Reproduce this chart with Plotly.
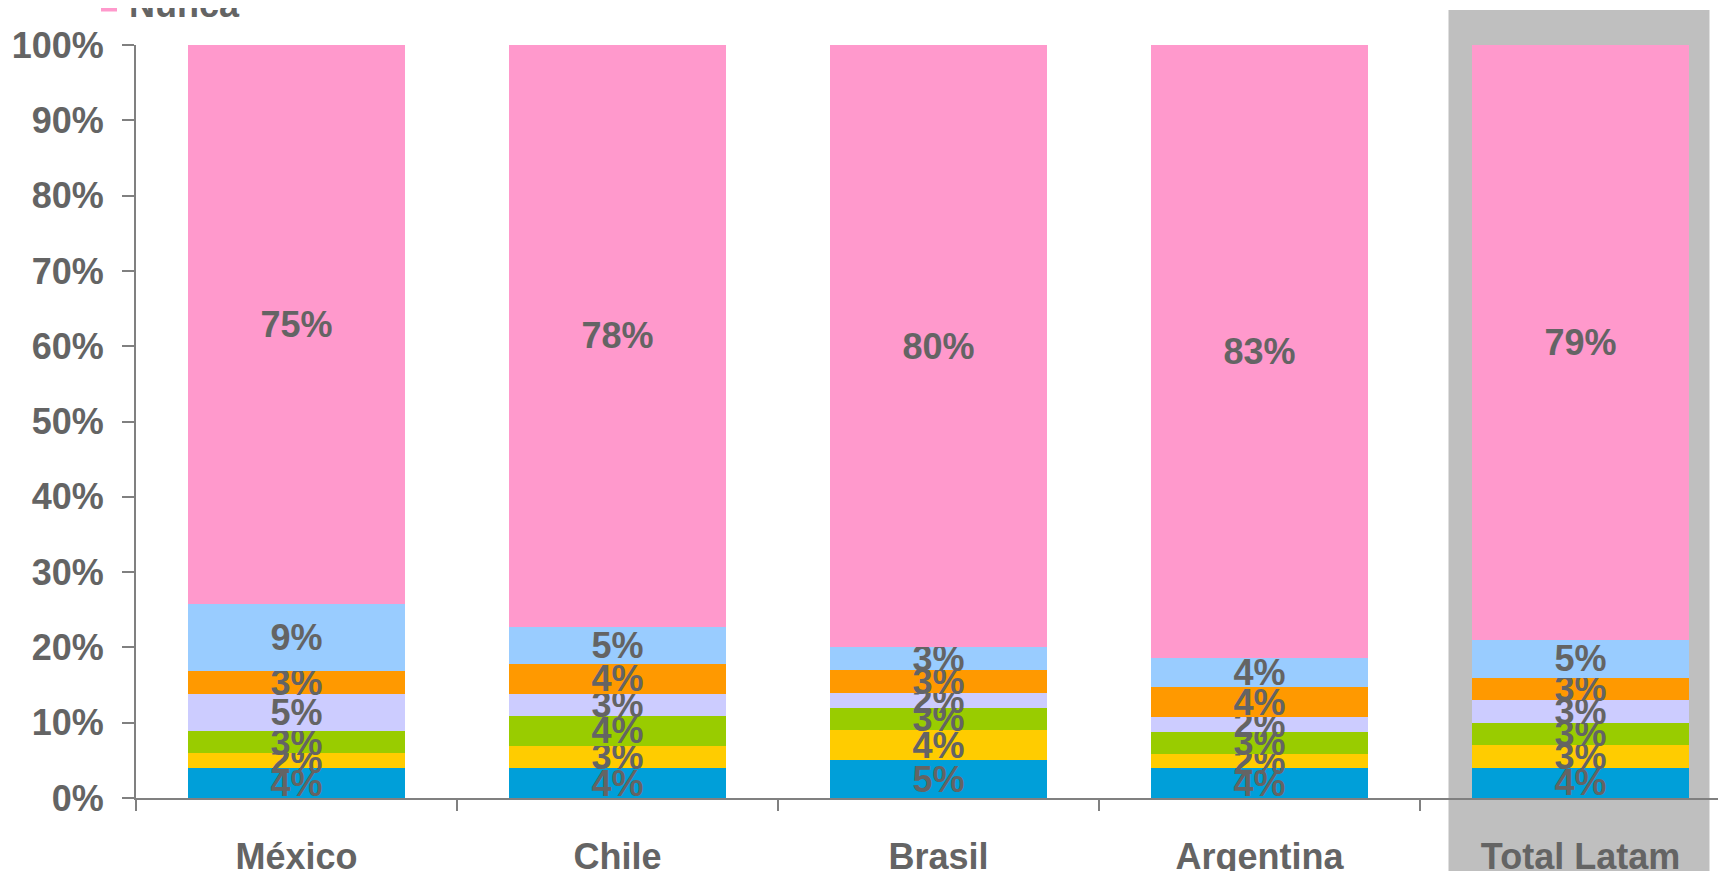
import plotly.graph_objects as go

categories = ["México", "Chile", "Brasil", "Argentina", "Total Latam"]

serie_1 = [4, 4, 5, 4, 4]
serie_2 = [2, 3, 4, 2, 3]
serie_3 = [3, 4, 3, 3, 3]
serie_4 = [5, 3, 2, 2, 3]
serie_5 = [3, 4, 3, 4, 3]
serie_6 = [9, 5, 3, 4, 5]
nunca = [75, 78, 80, 83, 79]

series = [
    ("Serie 1", serie_1, "#009FD9"),
    ("Serie 2", serie_2, "#FFCC00"),
    ("Serie 3", serie_3, "#99CC00"),
    ("Serie 4", serie_4, "#CCCCFF"),
    ("Serie 5", serie_5, "#FF9900"),
    ("Serie 6", serie_6, "#99CCFF"),
    ("Nunca", nunca, "#FF99CC"),
]

# page body adds an 8px offset, so the figure is 8px smaller than the window
W, H = 1718, 863
FONT = "Liberation Sans, Arial, sans-serif"
TXT = "#646464"
AX = "#808080"

fig = go.Figure()
for name, vals, color in series:
    fig.add_trace(go.Bar(
        x=categories, y=vals, name=name, legendgroup=name,
        marker=dict(color=color, line=dict(width=0)),
        text=[f"{v}%" for v in vals],
        textposition="inside", insidetextanchor="middle",
        textangle=0, constraintext="none", cliponaxis=False,
        textfont=dict(family=FONT, size=36, color=TXT, weight="bold"),
        showlegend=False,
    ))

# legend entry for "Nunca" (square swatch)
fig.add_trace(go.Scatter(
    x=[categories[0]], y=[None], mode="markers", name="Nunca", legendgroup="Nunca",
    marker=dict(symbol="square", size=22, color="#FF99CC"),
    showlegend=True, hoverinfo="skip",
))

ml, mr, mt, mb = 128, 0, 37, 73
plot_w = W - ml - mr
plot_h = H - mt - mb
cat_px = 321
x_range = [-0.5, -0.5 + plot_w / cat_px]
units_per_px = 1 / cat_px
hl_idx = categories.index("Total Latam")
fig.add_shape(type="rect", xref="x", yref="paper",
              x0=hl_idx - 132 * units_per_px, x1=hl_idx + 129 * units_per_px,
              y0=-mb / plot_h, y1=1 + (mt - 2) / plot_h,
              fillcolor="#BFBFBF", line=dict(width=0), layer="below")

fig.update_layout(
    width=W, height=H,
    margin=dict(l=ml, r=mr, t=mt, b=mb, autoexpand=False),
    barmode="stack", barnorm="percent", bargap=0.327,
    paper_bgcolor="white", plot_bgcolor="rgba(0,0,0,0)",
    font=dict(family=FONT, size=36, color=TXT, weight="bold"),
    showlegend=True,
    legend=dict(x=(81 - ml) / plot_w, xanchor="left",
                y=1 + (mt + 4.5) / plot_h, yanchor="middle",
                font=dict(family=FONT, size=36, color=TXT, weight="bold"),
                bgcolor="rgba(0,0,0,0)", borderwidth=0, itemsizing="trace"),
    xaxis=dict(type="category", range=x_range, tickson="boundaries",
               ticks="outside", ticklen=11, tickwidth=2, tickcolor=AX,
               showline=True, linecolor=AX, linewidth=2, showgrid=False,
               ticklabelstandoff=26,
               tickfont=dict(family=FONT, size=36, color=TXT, weight="bold")),
    yaxis=dict(range=[0, 100], dtick=10, ticksuffix="%", ticks="outside",
               ticklen=12, tickwidth=2, tickcolor=AX, showline=True,
               linecolor=AX, linewidth=2, showgrid=False, zeroline=False,
               ticklabelstandoff=11,
               tickfont=dict(family=FONT, size=36, color=TXT, weight="bold")),
)

fig.write_html("out.html")
